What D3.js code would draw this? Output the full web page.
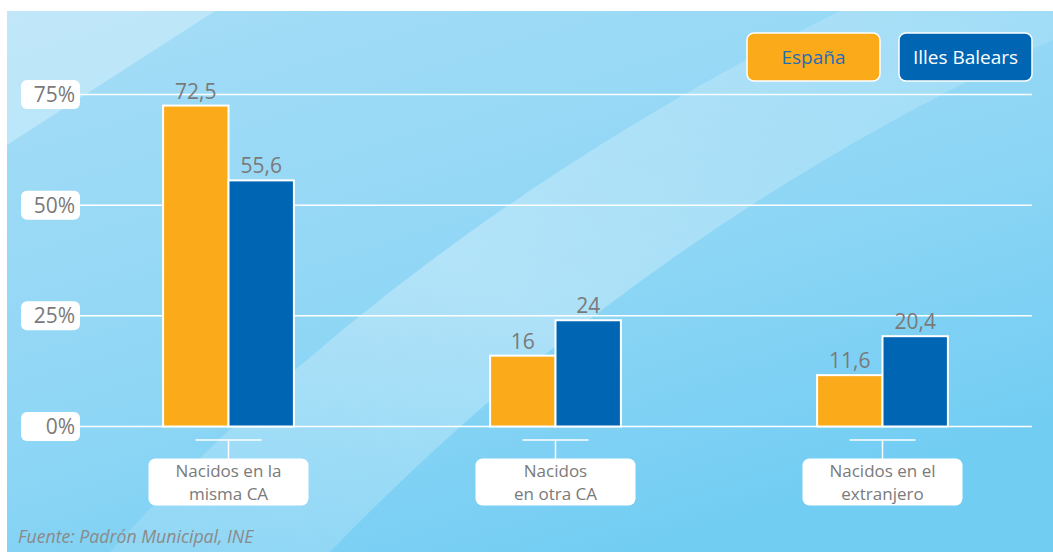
<!DOCTYPE html>
<html>
<head>
<meta charset="utf-8">
<script src="https://cdn.jsdelivr.net/npm/d3@7"></script>
<style>
  html, body { margin: 0; padding: 0; background: #ffffff; }
  #chart { width: 1053px; height: 552px; }
</style>
</head>
<body>
<div id="chart"></div>
<script>
// data
const categories = [["Nacidos en la", "misma CA"], ["Nacidos", "en otra CA"], ["Nacidos en el", "extranjero"]];
const seriesNames = ["España", "Illes Balears"];
const espana = [72.5, 16, 11.6];
const illesBalears = [55.6, 24, 20.4];
const yTicks = [0, 25, 50, 75];
const source = "Fuente: Padrón Municipal, INE";

const width = 1053;
const height = 552;
const colors = ["#fbab19", "#0066b3"];
const gray = "#7a7a7a";
const font = "'Open Sans', 'Noto Sans', sans-serif";

const svg = d3.create("svg").attr("width", width).attr("height", height);

// background
const defs = svg.append("defs");
const bg = defs.append("linearGradient").attr("id", "bg")
  .attr("x1", 0).attr("y1", 0).attr("x2", 0.6).attr("y2", 1);
bg.append("stop").attr("offset", 0).attr("stop-color", "#a6ddf7");
bg.append("stop").attr("offset", 0.6).attr("stop-color", "#8ed6f5");
bg.append("stop").attr("offset", 1).attr("stop-color", "#72cdf3");
const glow = defs.append("linearGradient").attr("id", "glow")
  .attr("x1", 0).attr("y1", 1).attr("x2", 1).attr("y2", 0);
glow.append("stop").attr("offset", 0).attr("stop-color", "#fff").attr("stop-opacity", 0.12);
glow.append("stop").attr("offset", 0.45).attr("stop-color", "#fff").attr("stop-opacity", 0.3);
glow.append("stop").attr("offset", 1).attr("stop-color", "#fff").attr("stop-opacity", 0.12);

svg.append("rect").attr("x", 7).attr("y", 11).attr("width", width - 7).attr("height", height - 11)
  .attr("fill", "url(#bg)");
svg.append("path")
  .attr("d", "M7,145 L215,11 L7,11 Z")
  .attr("fill", "#fff").attr("opacity", 0.3);
svg.append("path")
  .attr("d", "M110,552 Q400,230 840,11 L1053,11 L1053,40 Q640,230 330,552 Z")
  .attr("fill", "url(#glow)");

// scales
const x = d3.scaleBand().domain(d3.range(categories.length)).range([65, 1046])
  .paddingInner(0.6).paddingOuter(0.3);
const xs = d3.scaleBand().domain(seriesNames).range([0, x.bandwidth()]);
const y = d3.scaleLinear().domain([0, 75]).range([426.5, 94.5]);

// gridlines
svg.append("g").selectAll("line").data(yTicks).join("line")
  .attr("x1", 80).attr("x2", 1032)
  .attr("y1", d => y(d)).attr("y2", d => y(d))
  .attr("stroke", "#fff").attr("stroke-width", 1.5);

// y labels
const yl = svg.append("g").selectAll("g").data(yTicks).join("g")
  .attr("transform", d => `translate(0,${y(d)})`);
yl.append("rect").attr("x", 21).attr("y", -14.5).attr("width", 59).attr("height", 29)
  .attr("rx", 6).attr("fill", "#fff");
yl.append("text").attr("x", 75).attr("y", 7.5).attr("text-anchor", "end")
  .attr("font-family", font).attr("font-size", 21).attr("fill", gray)
  .text(d => d + "%");

// bars
const rows = categories.map((c, i) => ({ i, values: [espana[i], illesBalears[i]] }));
const groups = svg.append("g").selectAll("g").data(rows).join("g")
  .attr("transform", d => `translate(${x(d.i)},0)`);
const bars = groups.selectAll("g").data(d => d.values.map((v, k) => ({ v, k }))).join("g");
bars.append("rect")
  .attr("x", d => xs(seriesNames[d.k]))
  .attr("y", d => y(d.v))
  .attr("width", xs.bandwidth())
  .attr("height", d => y(0) - y(d.v))
  .attr("fill", d => colors[d.k])
  .attr("stroke", "#fff").attr("stroke-width", 2);
bars.append("text")
  .attr("x", d => xs(seriesNames[d.k]) + xs.bandwidth() / 2)
  .attr("y", d => y(d.v) - 7)
  .attr("text-anchor", "middle")
  .attr("font-family", font).attr("font-size", 21).attr("fill", gray)
  .text(d => String(d.v).replace(".", ","));

// category labels with bracket
const cl = svg.append("g").selectAll("g").data(categories).join("g")
  .attr("transform", (d, i) => `translate(${x(i) + x.bandwidth() / 2},0)`);
cl.append("line").attr("x1", -33).attr("x2", 33).attr("y1", 440).attr("y2", 440)
  .attr("stroke", "#fff").attr("stroke-width", 1.5);
cl.append("line").attr("x1", 0).attr("x2", 0).attr("y1", 440).attr("y2", 459)
  .attr("stroke", "#fff").attr("stroke-width", 1.5);
cl.append("rect").attr("x", -80).attr("y", 458.5).attr("width", 160).attr("height", 47)
  .attr("rx", 7).attr("fill", "#fff");
cl.each(function (d) {
  const g = d3.select(this);
  d.forEach((line, j) => g.append("text").attr("text-anchor", "middle")
    .attr("x", 0).attr("y", 476.5 + j * 23.3)
    .attr("font-family", font).attr("font-size", 17).attr("fill", gray)
    .text(line));
});

// legend
const lg = svg.append("g").selectAll("g").data(seriesNames).join("g")
  .attr("transform", (d, i) => `translate(${747 + i * 152},33)`);
lg.append("rect").attr("width", 133).attr("height", 48).attr("rx", 7)
  .attr("fill", (d, i) => colors[i]).attr("stroke", "#fff").attr("stroke-width", 1.5);
lg.append("text").attr("x", 66.5).attr("y", 30.5).attr("text-anchor", "middle")
  .attr("font-family", font).attr("font-size", 19).attr("font-weight", 500)
  .attr("fill", (d, i) => i === 0 ? "#1f6db5" : "#fff")
  .text(d => d);

// source
svg.append("text").attr("x", 18).attr("y", 543)
  .attr("font-family", font).attr("font-size", 17.7).attr("font-style", "italic")
  .attr("fill", "#8a8a8a").text(source);

d3.select("#chart").node().appendChild(svg.node());
</script>
</body>
</html>
